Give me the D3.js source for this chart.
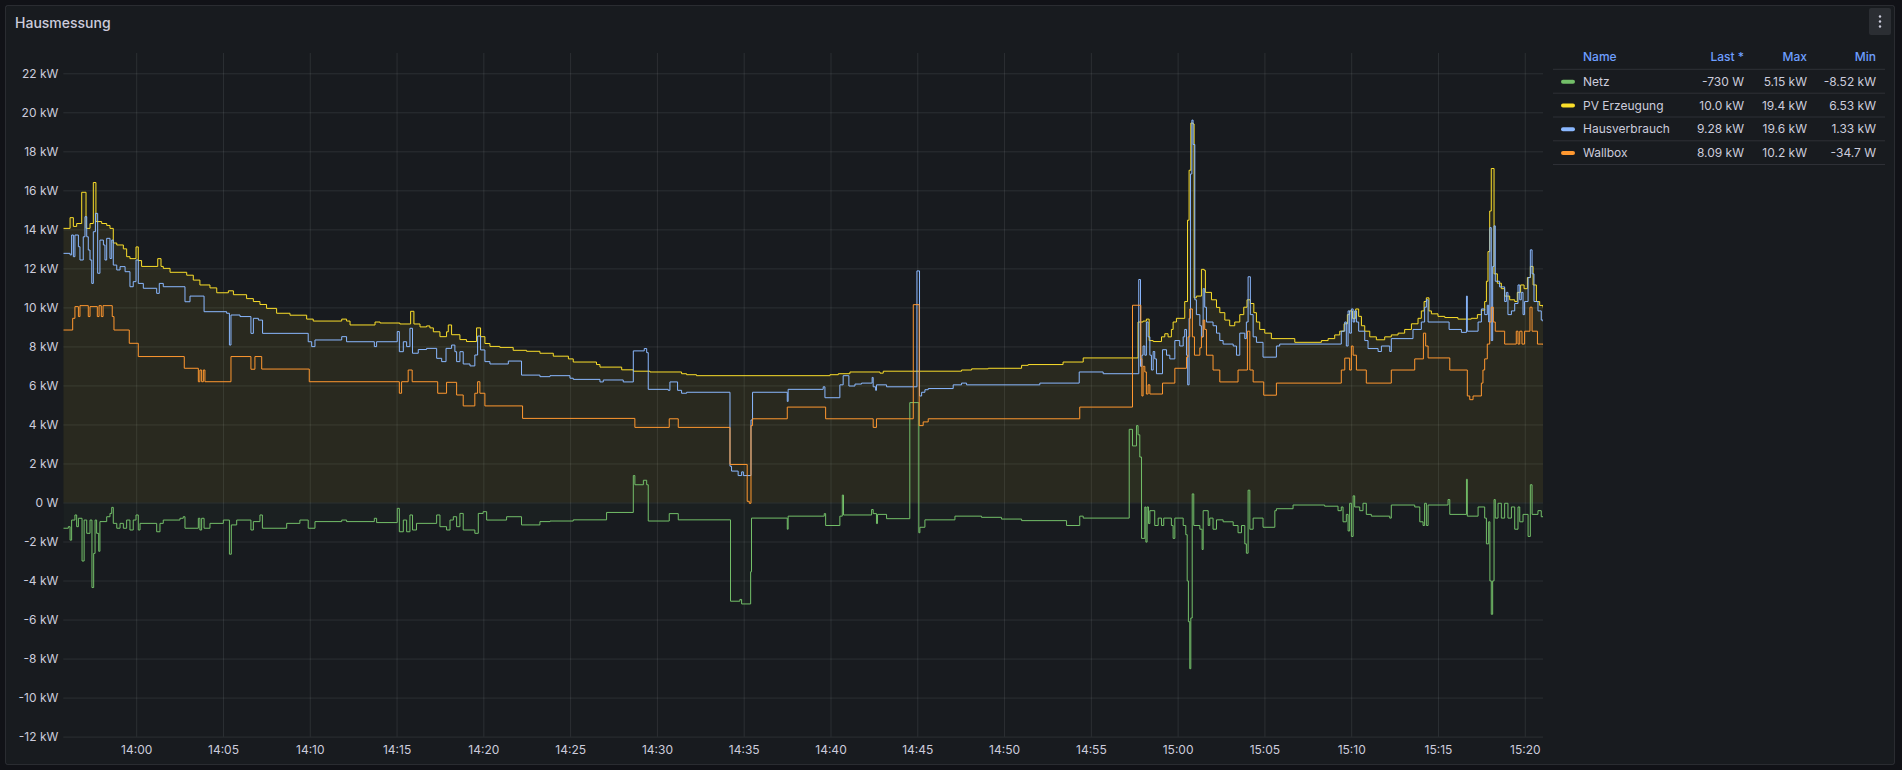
<!DOCTYPE html>
<html lang="de">
  <head>
    <meta charset="UTF-8" />
    <title>Hausmessung</title>
    <script src="https://cdnjs.cloudflare.com/ajax/libs/d3/7.8.5/d3.min.js"></script>
    <style>
      body { margin: 0; background: #111217; }
      svg text { font-family: Inter, "Open Sans", sans-serif; }
    </style>
  </head>
  <body>
    <div id="chart"></div>
    <script>
      /** Readings: [minutes after 14:00, kW] */
      const netz = [
        [-4.2, -1.32], [-3.91, -1.24], [-3.81, -1.93], [-3.72, -0.9], [-3.53, -0.64], [-3.43, -1.24], [-3.33, -0.81],
        [-3.12, -3.0], [-3.0, -0.9], [-2.85, -1.58], [-2.66, -0.9], [-2.55, -4.36], [-2.45, -2.61], [-2.37, -0.9],
        [-2.28, -1.58], [-2.16, -2.5], [-2.09, -0.98], [-1.7, -0.73], [-1.51, -0.56], [-1.41, -0.25], [-1.32, -1.07],
        [-1.12, -1.32], [-0.93, -1.07], [-0.74, -1.32], [-0.55, -0.9], [-0.36, -1.41], [-0.17, -0.9], [-0.01, -0.64],
        [0.12, -1.41], [0.22, -1.07], [1.18, -1.5], [1.37, -1.07], [1.56, -0.9], [2.52, -0.81], [2.71, -0.73],
        [2.81, -1.32], [3.58, -0.81], [3.67, -1.41], [3.77, -0.81], [3.91, -1.32], [4.25, -1.07], [5.02, -0.9],
        [5.37, -2.65], [5.48, -1.15], [5.79, -0.9], [6.61, -1.41], [6.75, -0.98], [7.13, -0.64], [7.27, -1.32],
        [8.67, -1.07], [9.43, -0.9], [9.91, -1.32], [10.3, -0.98], [11.84, -0.9], [12.12, -0.98], [13.72, -0.81],
        [13.85, -1.03], [15.04, -0.3], [15.16, -1.5], [15.39, -0.9], [15.58, -1.5], [15.77, -0.64], [15.92, -1.41],
        [16.15, -1.07], [17.31, -0.64], [17.5, -1.24], [17.88, -1.41], [18.08, -0.9], [18.27, -0.73], [18.46, -1.24],
        [18.65, -0.56], [18.84, -1.41], [19.51, -1.58], [19.71, -0.56], [19.99, -0.47], [20.19, -0.9], [21.34, -0.73],
        [22.2, -1.15], [23.26, -0.98], [23.84, -0.95], [25.18, -0.89], [27.1, -0.51], [28.64, 1.38], [28.73, 0.91],
        [29.22, 1.14], [29.41, 0.91], [29.5, -0.95], [30.71, -0.57], [31.23, -0.89], [34.24, -5.06], [34.78, -4.97],
        [34.88, -5.2], [35.4, -3.55], [35.45, -0.8], [37.51, -1.37], [37.56, -0.7], [39.64, -0.57], [39.72, -1.18],
        [40.54, -0.7], [40.68, 0.38], [40.75, -0.64], [42.37, -0.36], [42.46, -0.57], [42.65, -1.08], [42.71, -0.61],
        [43.23, -0.83], [44.57, 5.12], [45.09, -1.55], [45.15, -1.27], [45.44, -0.89], [47.17, -0.7], [48.7, -0.76],
        [49.85, -0.85], [51.01, -0.93], [53.6, -1.18], [54.36, -0.7], [54.56, -0.8], [57.21, 3.75], [57.4, 2.9],
        [57.63, 3.94], [57.72, 3.47], [57.82, 2.33], [57.92, -1.84], [58.11, -0.23], [58.17, -2.03], [58.24, -0.23],
        [58.32, -1.08], [58.4, -0.42], [58.68, -1.18], [58.88, -0.8], [59.07, -1.18], [59.2, -0.8], [59.64, -1.18],
        [59.74, -1.84], [59.84, -0.8], [60.32, -1.18], [60.47, -1.65], [60.55, -4.02], [60.62, -6.11], [60.7, -8.52],
        [60.76, -5.92], [60.84, 0.44], [60.93, -1.18], [61.28, -1.37], [61.41, -2.41], [61.47, -0.42], [61.76, -1.18],
        [61.85, -0.8], [62.04, -1.37], [62.24, -0.89], [62.62, -0.99], [63.2, -1.18], [63.48, -1.55], [63.68, -1.18],
        [63.87, -2.12], [63.96, -2.6], [64.06, 0.63], [64.16, -1.37], [64.35, -0.8], [64.92, -1.27], [65.6, -0.42],
        [65.69, -0.32], [66.65, -0.13], [68.47, -0.19], [69.24, -0.42], [69.43, -0.23], [69.53, -0.99], [69.72, -0.61],
        [69.82, -1.46], [69.91, -0.04], [70.01, -1.74], [70.11, 0.34], [70.2, -0.23], [70.49, -0.42], [70.68, -0.04],
        [70.87, -0.61], [71.16, -0.7], [72.22, -0.8], [72.31, -0.13], [73.66, -0.23], [73.95, -0.99], [74.14, -1.18],
        [74.23, -0.04], [74.33, -1.18], [74.43, -0.13], [75.58, 0.15], [75.68, -0.61], [76.64, 1.19], [76.69, -0.7],
        [77.31, -0.23], [77.69, -0.8], [77.79, -2.12], [77.92, -0.99], [77.99, -4.02], [78.07, -5.73], [78.15, -4.02],
        [78.23, 0.15], [78.3, -0.8], [78.46, -0.04], [78.65, -0.8], [78.84, -0.04], [79.03, -0.8], [79.23, -0.23],
        [79.42, -1.37], [79.61, -0.23], [79.71, -0.99], [79.9, -0.61], [80.19, -1.74], [80.32, 0.91], [80.42, -0.61],
        [80.76, -0.42], [80.95, -0.73], [81.05, -0.73],
      ];
      const pvErzeugung = [
        [-4.2, 14.05], [-3.81, 14.6], [-3.62, 14.15], [-3.43, 14.3], [-3.14, 15.9], [-2.89, 14.05], [-2.66, 14.3],
        [-2.47, 16.4], [-2.32, 14.4], [-1.99, 14.3], [-1.7, 14.2], [-1.51, 14.05], [-1.32, 13.3], [-1.12, 13.2],
        [-0.74, 13.0], [-0.55, 12.6], [-0.36, 12.5], [-0.01, 13.1], [0.12, 12.4], [0.31, 12.1], [1.24, 12.5],
        [1.43, 12.1], [1.56, 12.0], [1.95, 11.8], [2.91, 11.65], [3.29, 11.4], [3.67, 11.15], [4.25, 11.0],
        [4.64, 10.75], [5.31, 10.85], [5.6, 10.65], [6.36, 10.45], [6.75, 10.3], [7.13, 10.15], [7.51, 9.95],
        [8.09, 9.7], [8.86, 9.6], [9.82, 9.4], [10.2, 9.3], [11.84, 9.4], [12.12, 9.3], [12.32, 9.1], [13.76, 9.25],
        [14.05, 9.2], [15.19, 9.15], [15.81, 9.8], [16.0, 9.15], [16.35, 9.0], [16.73, 9.05], [16.92, 8.95],
        [17.12, 8.75], [17.5, 8.5], [17.88, 8.75], [17.98, 9.1], [18.17, 8.6], [18.65, 8.35], [19.03, 8.25],
        [19.61, 8.95], [19.84, 8.5], [20.09, 8.15], [20.38, 8.0], [20.95, 7.95], [21.72, 7.8], [22.49, 7.75],
        [23.26, 7.65], [24.03, 7.5], [24.9, 7.36], [25.18, 7.2], [26.52, 7.07], [26.72, 6.94], [27.97, 6.8],
        [28.64, 6.73], [29.6, 6.69], [31.42, 6.6], [31.71, 6.55], [32.28, 6.5], [39.97, 6.55], [40.45, 6.6],
        [41.12, 6.69], [42.85, 6.63], [43.04, 6.73], [47.55, 6.79], [48.13, 6.85], [49.09, 6.88], [51.01, 7.03],
        [51.39, 7.07], [53.4, 7.2], [54.56, 7.41], [57.72, 9.25], [58.01, 9.3], [58.2, 9.4], [58.36, 8.3],
        [58.59, 8.25], [59.07, 8.49], [59.26, 8.65], [59.45, 8.49], [59.64, 8.87], [59.74, 9.25], [59.93, 9.44],
        [60.41, 10.3], [60.57, 14.47], [60.66, 17.03], [60.76, 19.45], [60.89, 19.4], [60.95, 10.49], [61.08, 10.58],
        [61.37, 11.95], [61.53, 11.9], [61.6, 10.77], [61.95, 10.39], [62.24, 10.0], [62.43, 9.73], [62.72, 9.35],
        [63.0, 9.06], [63.29, 9.25], [63.58, 9.63], [63.81, 10.01], [64.0, 10.39], [64.19, 10.2], [64.39, 9.73],
        [64.54, 9.25], [64.73, 8.87], [65.02, 8.68], [65.4, 8.4], [66.75, 8.21], [68.28, 8.3], [68.67, 8.4],
        [69.05, 8.59], [69.34, 8.78], [69.59, 9.16], [69.78, 9.63], [69.91, 9.82], [70.07, 9.44], [70.26, 9.92],
        [70.43, 9.54], [70.59, 9.06], [70.78, 8.78], [71.07, 8.49], [71.45, 8.34], [71.93, 8.49], [72.31, 8.59],
        [72.7, 8.68], [73.08, 8.87], [73.47, 9.16], [73.85, 9.44], [74.04, 9.82], [74.2, 10.3], [74.33, 10.49],
        [74.48, 9.82], [74.62, 9.67], [75.0, 9.54], [75.39, 9.48], [76.15, 9.4], [76.92, 9.44], [77.27, 9.63],
        [77.5, 9.86], [77.69, 10.3], [77.79, 11.34], [77.88, 12.86], [77.98, 14.94], [78.07, 17.12], [78.23, 11.72],
        [78.42, 11.24], [78.65, 10.96], [78.84, 10.58], [79.13, 10.39], [79.42, 10.3], [79.57, 10.77], [79.76, 11.15],
        [79.96, 10.96], [80.15, 11.53], [80.32, 12.1], [80.48, 11.15], [80.67, 10.3], [80.86, 10.1], [81.05, 10.0],
      ];
      const hausverbrauch = [
        [-4.2, 12.77], [-3.81, 12.69], [-3.72, 13.71], [-3.62, 12.6], [-3.53, 13.71], [-3.33, 13.11], [-3.24, 12.43],
        [-3.05, 13.62], [-2.95, 14.65], [-2.85, 13.62], [-2.76, 12.94], [-2.66, 12.43], [-2.56, 11.23], [-2.47, 13.88],
        [-2.35, 14.82], [-2.22, 11.75], [-2.09, 13.45], [-1.89, 13.2], [-1.8, 12.43], [-1.7, 13.54], [-1.51, 12.51],
        [-1.41, 13.45], [-1.32, 12.17], [-1.12, 11.92], [-0.93, 12.09], [-0.64, 11.83], [-0.36, 11.06], [-0.17, 11.32],
        [-0.01, 12.43], [0.12, 11.23], [0.41, 10.98], [1.18, 10.72], [1.33, 11.23], [1.56, 11.06], [2.81, 10.29],
        [3.1, 10.58], [3.91, 9.78], [5.21, 9.7], [5.37, 8.07], [5.46, 9.61], [5.98, 9.53], [6.61, 8.67], [6.75, 9.44],
        [7.04, 9.35], [7.28, 8.67], [9.91, 8.24], [10.11, 7.99], [10.3, 8.33], [11.84, 8.5], [12.12, 8.24],
        [13.72, 7.99], [13.85, 8.24], [15.04, 8.76], [15.16, 7.73], [15.39, 8.24], [15.58, 7.99], [15.77, 8.93],
        [15.92, 7.65], [16.25, 7.84], [16.73, 7.9], [17.31, 7.39], [17.6, 7.22], [17.85, 7.9], [18.17, 8.07],
        [18.36, 7.73], [18.46, 7.22], [18.65, 7.73], [18.84, 7.1], [19.23, 7.0], [19.51, 7.56], [19.67, 8.53],
        [19.84, 7.82], [20.09, 7.22], [20.38, 7.1], [21.44, 7.25], [22.2, 6.53], [23.26, 6.45], [23.84, 6.5],
        [24.99, 6.37], [25.18, 6.31], [26.72, 6.18], [26.91, 6.28], [28.06, 6.18], [28.64, 7.77], [29.27, 7.89],
        [29.41, 7.68], [29.5, 5.8], [30.65, 5.75], [30.75, 6.18], [31.19, 5.75], [31.42, 5.6], [31.71, 5.65],
        [34.21, 1.86], [34.3, 1.61], [34.68, 1.38], [34.88, 1.57], [34.98, 1.38], [35.42, 4.23], [35.51, 5.65],
        [37.51, 5.18], [37.56, 5.8], [39.58, 5.93], [39.68, 5.37], [40.54, 6.03], [40.73, 6.5], [41.06, 5.97],
        [41.41, 6.07], [41.79, 6.12], [42.4, 6.41], [42.46, 5.93], [42.6, 5.75], [42.65, 6.03], [43.23, 5.93],
        [44.98, 11.87], [45.13, 5.46], [45.25, 5.65], [45.44, 5.78], [45.63, 5.84], [47.07, 6.03], [47.55, 6.12],
        [47.84, 6.03], [52.06, 6.12], [54.33, 6.69], [55.71, 6.6], [57.76, 11.43], [57.86, 6.98], [57.94, 7.55],
        [58.01, 8.02], [58.11, 7.55], [58.2, 9.25], [58.3, 8.49], [58.4, 7.55], [58.49, 6.79], [58.59, 7.74],
        [58.68, 7.36], [58.78, 6.6], [59.13, 7.83], [59.36, 7.55], [59.55, 7.36], [59.84, 8.3], [60.12, 8.02],
        [60.32, 8.49], [60.41, 8.87], [60.51, 7.55], [60.58, 6.03], [60.66, 9.44], [60.74, 16.84], [60.82, 19.6],
        [60.89, 18.35], [60.99, 10.39], [61.08, 9.63], [61.28, 9.06], [61.37, 8.49], [61.47, 10.96], [61.56, 10.01],
        [61.66, 9.25], [62.04, 9.06], [62.24, 8.68], [62.43, 8.3], [62.62, 8.12], [63.2, 8.02], [63.39, 7.55],
        [63.58, 8.68], [63.87, 8.4], [63.96, 9.25], [64.06, 11.57], [64.19, 9.63], [64.35, 8.49], [64.54, 8.21],
        [64.92, 7.45], [65.69, 8.02], [65.88, 8.12], [69.43, 8.78], [69.63, 9.25], [69.72, 8.02], [69.82, 9.82],
        [69.91, 8.68], [70.01, 9.92], [70.11, 9.25], [70.2, 9.82], [70.3, 9.25], [70.43, 8.78], [70.78, 8.3],
        [70.97, 7.89], [71.55, 7.74], [71.74, 8.02], [72.22, 7.74], [72.31, 8.4], [73.56, 8.87], [74.04, 9.25],
        [74.23, 10.01], [74.33, 10.39], [74.43, 9.25], [75.64, 8.87], [76.35, 8.72], [76.64, 10.58], [76.69, 8.78],
        [77.31, 9.25], [77.5, 9.92], [77.69, 9.63], [77.84, 10.11], [77.92, 9.25], [77.99, 14.09], [78.07, 8.3],
        [78.15, 12.1], [78.23, 14.18], [78.3, 11.34], [78.55, 11.05], [78.84, 10.3], [78.94, 10.77], [79.03, 9.63],
        [79.23, 9.82], [79.42, 10.2], [79.61, 11.15], [79.71, 10.39], [79.8, 10.77], [79.9, 9.63], [79.99, 10.3],
        [80.19, 11.53], [80.32, 12.95], [80.42, 11.72], [80.53, 10.3], [80.76, 9.82], [80.95, 9.35], [81.05, 9.28],
      ];
      const wallbox = [
        [-4.2, 8.84], [-3.66, 9.44], [-3.53, 10.04], [-3.33, 9.53], [-3.24, 10.09], [-2.76, 9.53], [-2.66, 10.04],
        [-2.24, 9.53], [-2.14, 10.09], [-2.01, 9.53], [-1.91, 10.09], [-1.38, 9.53], [-1.28, 8.84], [-0.4, 8.16],
        [0.12, 7.48], [2.77, 6.88], [3.58, 6.19], [3.67, 6.79], [3.77, 6.19], [3.87, 6.79], [3.96, 6.19],
        [5.46, 7.48], [6.61, 6.83], [6.84, 7.48], [7.23, 6.84], [9.97, 6.19], [15.16, 5.6], [15.29, 6.19],
        [15.67, 6.79], [15.9, 6.19], [17.37, 5.6], [17.88, 6.16], [18.46, 5.51], [18.84, 4.95], [19.51, 5.6],
        [19.67, 6.19], [19.8, 5.6], [20.09, 4.95], [22.26, 4.31], [28.73, 3.85], [30.71, 4.29], [31.23, 3.85],
        [34.21, 1.95], [35.2, 0.06], [35.32, -0.04], [35.42, 3.94], [35.51, 4.29], [37.51, 4.89], [39.72, 4.29],
        [42.46, 3.85], [42.65, 4.29], [44.77, 10.14], [45.11, 3.94], [45.34, 4.13], [45.63, 4.29], [54.36, 4.89],
        [57.4, 10.11], [57.88, 7.36], [57.94, 5.46], [58.01, 6.98], [58.11, 6.69], [58.2, 5.56], [58.3, 6.03],
        [58.4, 5.56], [59.13, 6.12], [59.84, 6.88], [60.51, 7.45], [60.6, 8.49], [60.7, 9.92], [60.85, 8.49],
        [60.97, 7.55], [61.28, 7.93], [61.37, 8.49], [61.47, 9.35], [61.56, 8.87], [61.66, 7.55], [62.04, 6.79],
        [62.43, 6.18], [63.48, 6.79], [64.02, 8.78], [64.16, 6.79], [64.35, 6.18], [64.96, 5.5], [65.69, 6.12],
        [69.43, 6.79], [69.63, 7.4], [69.91, 6.79], [70.01, 8.02], [70.11, 7.55], [70.3, 6.79], [70.87, 6.12],
        [72.31, 6.79], [73.66, 7.36], [74.16, 8.68], [74.29, 8.02], [74.43, 7.41], [75.68, 6.79], [76.69, 5.46],
        [76.83, 5.27], [77.02, 5.46], [77.5, 6.12], [77.59, 6.79], [77.69, 7.36], [77.84, 8.12], [77.98, 9.25],
        [78.07, 10.01], [78.19, 9.25], [78.3, 8.78], [78.84, 8.12], [79.51, 8.78], [79.61, 8.12], [79.71, 8.78],
        [79.84, 8.12], [79.99, 8.78], [80.3, 10.01], [80.42, 8.78], [80.73, 8.12], [81.05, 8.09],
      ];

      const seriesNames = ["Netz", "PV Erzeugung", "Hausverbrauch", "Wallbox"];
      const legendLast = ["-730 W", "10.0 kW", "9.28 kW", "8.09 kW"];
      const legendMax = ["5.15 kW", "19.4 kW", "19.6 kW", "10.2 kW"];
      const legendMin = ["-8.52 kW", "6.53 kW", "1.33 kW", "-34.7 W"];
      const legendHeaders = ["Name", "Last *", "Max", "Min"];
      const yTicks = [-12, -10, -8, -6, -4, -2, 0, 2, 4, 6, 8, 10, 12, 14, 16, 18, 20, 22];

      /** Layout */
      const width = 1902;
      const height = 770;
      const colors = ["#73BF69", "#FADE2A", "#8AB8FF", "#FF9830"];
      const plot = { left: 63.3, right: 1543, top: 53, bottom: 736.6 };
      const textColor = "#ccccdc";
      const gridColor = "rgba(240, 250, 255, 0.09)";
      const base = new Date(2024, 5, 1, 14, 0, 0).getTime();
      const toDate = (m) => new Date(base + m * 60000);

      const xScale = d3.scaleTime()
        .domain([toDate(-4.2), toDate(81.05)])
        .range([plot.left, plot.right]);
      const yScale = d3.scaleLinear()
        .domain([-12, 23.04])
        .range([plot.bottom, plot.top]);

      const svg = d3.select("#chart").append("svg")
        .attr("width", width)
        .attr("height", height);

      /** Panel */
      svg.append("rect")
        .attr("x", 5.5).attr("y", 5.5)
        .attr("width", 1889).attr("height", 759)
        .attr("rx", 2)
        .attr("fill", "#181b1f")
        .attr("stroke", "rgba(204, 204, 220, 0.12)");

      svg.append("text")
        .attr("x", 15).attr("y", 28)
        .attr("fill", textColor)
        .attr("font-size", 14).attr("font-weight", 500)
        .text("Hausmessung");

      /** Menu button */
      const menu = svg.append("g").attr("transform", "translate(1869, 8)");
      menu.append("rect").attr("width", 22).attr("height", 27).attr("rx", 2).attr("fill", "#2b2e33");
      [8.5, 13.5, 18.5].forEach((cy) =>
        menu.append("circle").attr("cx", 11).attr("cy", cy).attr("r", 1.2).attr("fill", textColor));

      /** Grid and axes */
      const xAxis = d3.axisBottom(xScale)
        .ticks(d3.timeMinute.every(5))
        .tickFormat(d3.timeFormat("%H:%M"))
        .tickSize(-(plot.bottom - plot.top))
        .tickPadding(9);
      const gx = svg.append("g")
        .attr("transform", `translate(0, ${plot.bottom})`)
        .call(xAxis);

      const formatKw = (v) => (v === 0 ? "0 W" : `${v} kW`);
      const yAxis = d3.axisLeft(yScale)
        .tickValues(yTicks)
        .tickFormat(formatKw)
        .tickSize(-(plot.right - plot.left))
        .tickPadding(5);
      const gy = svg.append("g")
        .attr("transform", `translate(${plot.left}, 0)`)
        .call(yAxis);

      [gx, gy].forEach((g) => {
        g.select(".domain").remove();
        g.selectAll(".tick line").attr("stroke", gridColor);
        g.selectAll(".tick text")
          .attr("fill", textColor)
          .attr("font-size", 12)
          .attr("font-family", "Inter, sans-serif");
      });

      /** Series */
      svg.append("clipPath").attr("id", "plot-clip")
        .append("rect")
        .attr("x", plot.left).attr("y", plot.top)
        .attr("width", plot.right - plot.left)
        .attr("height", plot.bottom - plot.top);
      const layer = svg.append("g").attr("clip-path", "url(#plot-clip)");

      const seriesData = [netz, pvErzeugung, hausverbrauch, wallbox];
      const fillOpacity = [0.03, 0.075, 0, 0];

      const area = d3.area()
        .curve(d3.curveStepAfter)
        .x((d) => xScale(toDate(d[0])))
        .y0(yScale(0))
        .y1((d) => yScale(d[1]));
      const line = d3.line()
        .curve(d3.curveStepAfter)
        .x((d) => xScale(toDate(d[0])))
        .y((d) => yScale(d[1]));

      seriesData.forEach((data, i) => {
        if (fillOpacity[i] > 0) {
          layer.append("path")
            .datum(data)
            .attr("d", area)
            .attr("fill", colors[i])
            .attr("fill-opacity", fillOpacity[i]);
        }
      });
      seriesData.forEach((data, i) => {
        layer.append("path")
          .datum(data)
          .attr("d", line)
          .attr("fill", "none")
          .attr("stroke", colors[i])
          .attr("stroke-width", 1);
      });

      /** Legend table */
      const legend = svg.append("g").attr("font-size", 12);
      const colRight = [null, 1744, 1807, 1876];
      legendHeaders.forEach((h, j) => {
        legend.append("text")
          .attr("x", j === 0 ? 1583 : colRight[j])
          .attr("y", 61)
          .attr("text-anchor", j === 0 ? "start" : "end")
          .attr("fill", "#6E9FFF")
          .attr("font-weight", 500)
          .text(h);
      });
      const rowY = [81.7, 105.5, 129.2, 153];
      [69.3, 93.2, 117, 140.8, 164.5].forEach((y) => {
        legend.append("line")
          .attr("x1", 1553).attr("x2", 1885)
          .attr("y1", y).attr("y2", y)
          .attr("stroke", "rgba(204, 204, 220, 0.12)");
      });
      seriesNames.forEach((name, i) => {
        const y = rowY[i];
        legend.append("rect")
          .attr("x", 1561).attr("y", y - 2)
          .attr("width", 14).attr("height", 4)
          .attr("rx", 2)
          .attr("fill", colors[i]);
        const cells = [name, legendLast[i], legendMax[i], legendMin[i]];
        cells.forEach((c, j) => {
          legend.append("text")
            .attr("x", j === 0 ? 1583 : colRight[j])
            .attr("y", y + 4)
            .attr("text-anchor", j === 0 ? "start" : "end")
            .attr("fill", textColor)
            .text(c);
        });
      });
    </script>
  </body>
</html>
